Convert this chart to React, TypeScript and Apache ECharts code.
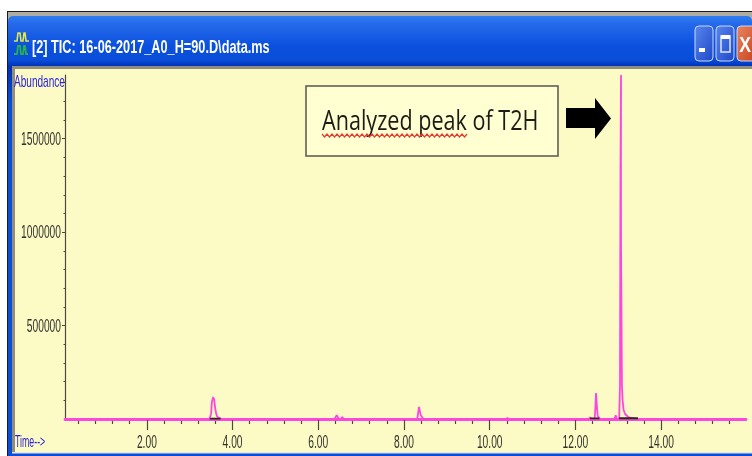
import React, { useEffect, useRef } from "react";
import * as echarts from "echarts";

const retentionTimes = [0.09, 3.46, 3.476, 3.5, 3.516, 3.546, 3.57, 3.593, 3.616, 3.64, 3.675, 3.733, 3.8, 6.38, 6.43, 6.47, 6.52, 6.56, 6.6, 8.31, 8.35, 8.39, 8.44, 8.48, 10.38, 10.41, 10.45, 12.31, 12.34, 12.37, 12.45, 12.47, 12.48, 12.5, 12.52, 12.56, 12.6, 12.91, 12.94, 12.97, 13.02, 13.04, 13.047, 13.052, 13.064, 13.062, 13.064, 13.085, 13.1, 13.124, 13.159, 13.23, 13.32, 13.44, 15.98];
const abundances = [0, 0, 0, 30000, 90000, 117000, 105000, 60000, 30000, 14000, 6000, 2000, 0, 0, 21000, 3000, 0, 10000, 0, 0, 65000, 20000, 4000, 0, 0, 6000, 0, 0, 9000, 0, 0, 80000, 139000, 70000, 15000, 4000, 0, 0, 20000, 0, 0, 181000, 928000, 1355000, 1841000, 1355000, 928000, 181000, 101000, 48000, 26700, 10700, 5000, 0, 0];
const integrationTimes = [3.47, 3.72, null, 12.34, 12.56, null, 13.02, 13.46];
const integrationLevels = [2000, 2000, null, 3000, 3000, null, 4000, 4000];
const majorTimeTicks = [2, 4, 6, 8, 10, 12, 14];
const minorTimeTicks = [0.4, 0.8, 1.2, 1.6, 2.4, 2.8, 3.2, 3.6, 4.4, 4.8, 5.2, 5.6, 6.4, 6.8, 7.2, 7.6, 8.4, 8.8, 9.2, 9.6, 10.4, 10.8, 11.2, 11.6, 12.4, 12.8, 13.2, 13.6, 14.4, 14.8, 15.2, 15.6];
const majorAbundanceTicks = [500000, 1000000, 1500000];
const minorAbundanceTicks = [100000, 200000, 300000, 400000, 600000, 700000, 800000, 900000, 1100000, 1200000, 1300000, 1400000, 1600000, 1700000, 1800000];

const TITLE = "[2] TIC: 16-06-2017_A0_H=90.D\\data.ms";
const NOTE = "Analyzed peak of T2H";
const SANS = '"Liberation Sans", sans-serif';
const X_MIN = 0.09, X_MAX = 15.98, Y_MAX = 1841000;
const YELLOW = "#fcfbc5";
const PINK = "#ff45e0";
const TICK_LABEL_COLOR = "#33332e";
const CAPTION_COLOR = "#2a22dc";

function wavy(x0: number, x1: number, y: number) {
  const pts: number[][] = [];
  let up = true;
  for (let x = x0; x <= x1; x += 2.5) { pts.push([x, up ? y - 1.5 : y + 1.5]); up = !up; }
  return pts;
}

function button(x: number, w: number, c1: string, c2: string) {
  return {
    type: "rect", shape: { x, y: 26, width: w, height: 35, r: 4 },
    style: {
      fill: new echarts.graphic.LinearGradient(0, 0, 1, 1, [{ offset: 0, color: c1 }, { offset: 1, color: c2 }]),
      stroke: "#c9d8f5", lineWidth: 1,
    },
  };
}

export default function App() {
  const ref = useRef<HTMLDivElement>(null);
  useEffect(() => {
    document.body.style.margin = "0";
    document.body.style.background = "#fff";
    const chart = echarts.init(ref.current!, null, { renderer: "svg" });
    const axisGray = "#4a4a44";
    chart.setOption({
      animation: false,
      backgroundColor: "#ffffff",
      grid: { left: 65, right: 6, top: 75, bottom: 37, containLabel: false },
      xAxis: [
        {
          type: "value", min: X_MIN, max: X_MAX, position: "bottom", z: 3,
          axisLine: { show: true, lineStyle: { color: PINK, width: 2.8 } },
          axisTick: { show: true, length: 11, customValues: majorTimeTicks, lineStyle: { color: axisGray, width: 1.2 } },
          axisLabel: { show: false },
          splitLine: { show: false },
        },
        {
          type: "value", min: X_MIN, max: X_MAX, position: "bottom", z: 2,
          axisLine: { show: false },
          axisTick: { show: true, length: 5, customValues: minorTimeTicks, lineStyle: { color: axisGray, width: 1.2 } },
          axisLabel: { show: false },
          splitLine: { show: false },
        },
      ],
      yAxis: [
        {
          type: "value", min: 0, max: Y_MAX, position: "left", z: 3,
          axisLine: { show: true, lineStyle: { color: axisGray, width: 1.2 } },
          axisTick: { show: true, length: 3, customValues: majorAbundanceTicks, lineStyle: { color: axisGray } },
          axisLabel: { show: false },
          splitLine: { show: false },
        },
        {
          type: "value", min: 0, max: Y_MAX, position: "left", z: 2,
          axisLine: { show: false },
          axisTick: { show: true, length: 1.5, customValues: minorAbundanceTicks, lineStyle: { color: axisGray } },
          axisLabel: { show: false },
          splitLine: { show: false },
        },
      ],
      series: [
        {
          name: "TIC", type: "line", xAxisIndex: 0, yAxisIndex: 0, symbol: "none", z: 4,
          lineStyle: { color: PINK, width: 1.8 },
          data: retentionTimes.map((t, i) => [t, abundances[i]]),
        },
        {
          name: "Integration", type: "line", xAxisIndex: 0, yAxisIndex: 0, symbol: "none", z: 5, connectNulls: false,
          lineStyle: { color: "#2a2a20", width: 1.8 },
          data: integrationTimes.map((t, i) => (t === null ? [null, null] : [t, integrationLevels[i]])),
        },
      ],
    });

    // The reference's labels are squeezed horizontally, which axis labels cannot do, so they are
    // placed through the axes' own scales and drawn as scaled texts.
    const tickFont = `18px ${SANS}`;
    const xLabels = majorTimeTicks.map((v) => ({
      type: "text", x: chart.convertToPixel({ xAxisIndex: 0 }, v), y: 442, scaleX: 0.57,
      style: { text: v.toFixed(2), fill: TICK_LABEL_COLOR, font: tickFont, textAlign: "center", textVerticalAlign: "middle" },
    }));
    const yLabels = majorAbundanceTicks.map((v) => ({
      type: "text", x: 61, y: chart.convertToPixel({ yAxisIndex: 0 }, v), scaleX: 0.57,
      style: { text: String(v), fill: TICK_LABEL_COLOR, font: tickFont, textAlign: "right", textVerticalAlign: "middle" },
    }));

    chart.setOption({
      graphic: {
        elements: [
          // window frame
          { type: "rect", z: -10, shape: { x: 7, y: 11, width: 745, height: 445 }, style: { fill: "#1c1c1c" } },
          { type: "rect", z: -10, shape: { x: 8, y: 12, width: 744, height: 444 }, style: { fill: "#b0ada0" } },
          {
            type: "rect", z: -10, shape: { x: 8, y: 16, width: 744, height: 440, r: [5, 5, 0, 0] },
            style: {
              fill: new echarts.graphic.LinearGradient(0, 0, 0, 1, [
                { offset: 0, color: "#2f7df2" }, { offset: 0.02, color: "#2468ea" }, { offset: 0.07, color: "#0a50de" },
                { offset: 0.1, color: "#0a4ed8" }, { offset: 0.115, color: "#0030b8" }, { offset: 0.2, color: "#0a4ed8" }, { offset: 1, color: "#0a4ed8" },
              ]),
            },
          },
          { type: "rect", z: -9, shape: { x: 12, y: 66, width: 740, height: 387 }, style: { fill: "#8f8d80" } },
          { type: "rect", z: -9, shape: { x: 15, y: 69, width: 737, height: 384 }, style: { fill: YELLOW } },
          { type: "rect", z: -9, shape: { x: 12, y: 452, width: 740, height: 1.5 }, style: { fill: "#dfe6e8" } },
          // title bar
          { type: "text", x: 32, y: 47, scaleX: 0.706, style: { text: TITLE, fill: "#ffffff", font: `bold 18px ${SANS}`, textVerticalAlign: "middle", shadowBlur: 1, shadowColor: "#001a70", shadowOffsetX: 1, shadowOffsetY: 1 } },
          { type: "polyline", shape: { points: [[14, 41], [17, 41], [18, 33], [20, 33], [21, 41], [23, 41], [24, 33], [25, 33], [26, 41], [29, 41]] }, style: { stroke: "#e0e84a", fill: "none", lineWidth: 1.6 } },
          { type: "polyline", shape: { points: [[14, 54], [17, 54], [18, 46], [20, 46], [21, 54], [23, 54], [24, 46], [25, 46], [26, 54], [28, 54]] }, style: { stroke: "#28b050", fill: "none", lineWidth: 1.8 } },
          button(695, 18, "#5a86ee", "#1d48c8"),
          button(716, 18, "#5a86ee", "#1d48c8"),
          button(737, 20, "#e88560", "#c8401c"),
          { type: "rect", shape: { x: 699, y: 48, width: 6, height: 4 }, style: { fill: "#ffffff" } },
          { type: "rect", shape: { x: 721, y: 36, width: 9, height: 16 }, style: { fill: "none", stroke: "#dce6fa", lineWidth: 1.5 } },
          { type: "rect", shape: { x: 721, y: 35, width: 9, height: 4 }, style: { fill: "#ffffff" } },
          { type: "text", x: 745, y: 44, scaleX: 0.8, style: { text: "X", fill: "#ffffff", font: `bold 22px ${SANS}`, textAlign: "center", textVerticalAlign: "middle" } },
          // axis captions and tick labels
          { type: "text", x: 14, y: 82, scaleX: 0.63, style: { text: "Abundance", fill: CAPTION_COLOR, font: `16px ${SANS}`, textVerticalAlign: "middle" } },
          { type: "text", x: 15, y: 441, scaleX: 0.55, style: { text: "Time-->", fill: CAPTION_COLOR, font: `16px ${SANS}`, textVerticalAlign: "middle" } },
          ...xLabels,
          ...yLabels,
          // annotation
          { type: "rect", shape: { x: 306, y: 86, width: 252, height: 70 }, style: { fill: "#ffffd2", stroke: "#55554c", lineWidth: 1.5 } },
          { type: "text", x: 322, y: 120, scaleX: 0.8, style: { text: NOTE, fill: "#1c1c18", font: '27px "Open Sans", sans-serif', textVerticalAlign: "middle" } },
          { type: "polyline", shape: { points: wavy(322, 468, 135.5) }, style: { stroke: "#e83a30", fill: "none", lineWidth: 1.2 } },
          { type: "polygon", shape: { points: [[566, 108], [595, 108], [595, 98], [611, 118.5], [595, 139], [595, 128], [566, 128]] }, style: { fill: "#000000" } },
        ],
      },
    });
    return () => chart.dispose();
  }, []);
  return <div ref={ref} style={{ position: "absolute", left: 0, top: 0, width: 752, height: 456, filter: "blur(0.45px)" }} />;
}
